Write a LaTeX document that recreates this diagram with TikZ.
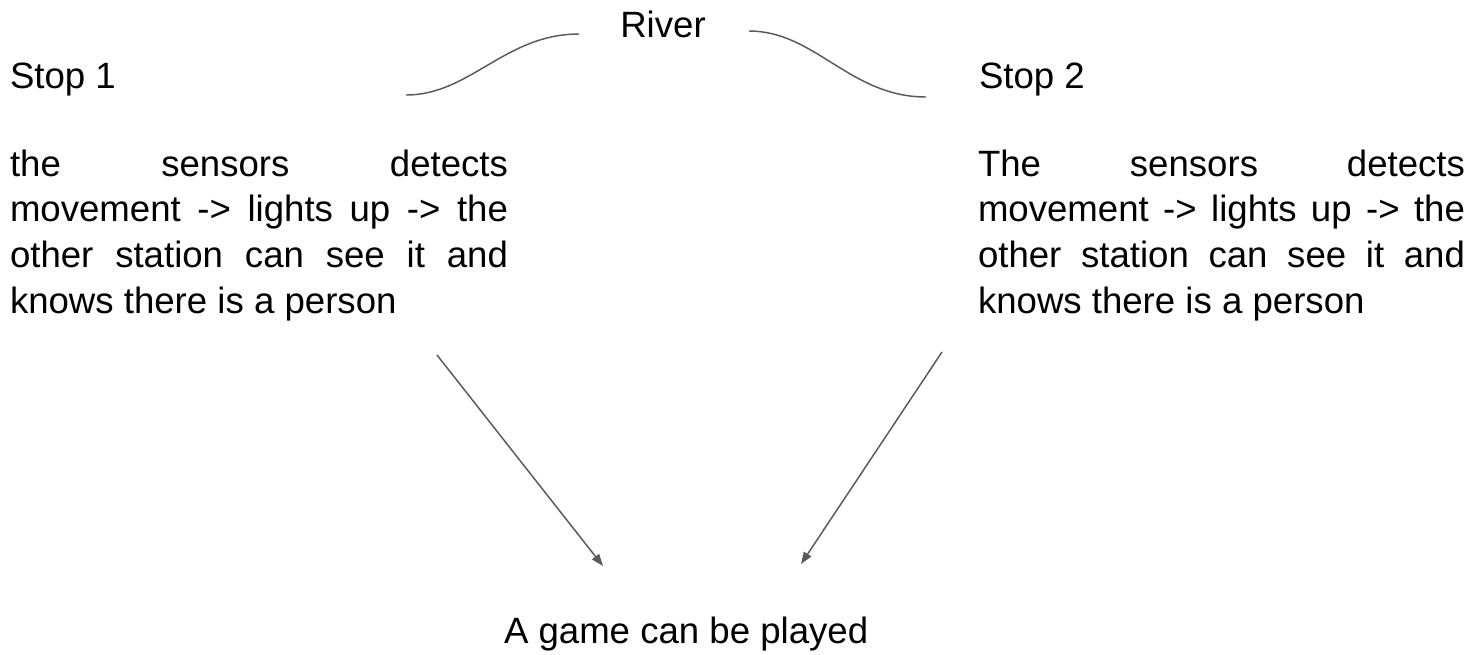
\documentclass[tikz,border=0pt]{standalone}
\usepackage{fontspec}
\setmainfont{Liberation Sans}
\usetikzlibrary{arrows.meta}
\begin{document}
\begin{tikzpicture}[x=0.75pt,y=-0.75pt,
  lbl/.style={inner sep=0pt,outer sep=0pt,anchor=base west,font=\fontsize{27.45pt}{34.3pt}\selectfont,text=black},
  para/.style={lbl,align=justify},
  conn/.style={draw=black!65,line width=1.1pt,-{Triangle[length=9pt,width=6.5pt]}},
  river/.style={draw=black!65,line width=1.1pt}]
\useasboundingbox (0,0) rectangle (1471,654);
\node[lbl] (stop1) at (10,88) {Stop 1};
\node[lbl] (stop2) at (979,88) {Stop 2};
\node[lbl,anchor=base] (river) at (663,37) {River};
\node[para,text width=373.5pt] (p1) at (10,176) {the sensors detects\linebreak movement -> lights up -> the\linebreak other station can see it and\linebreak knows there is a person};
\node[para,text width=365.25pt] (p2) at (978,176) {The sensors detects\linebreak movement -> lights up -> the\linebreak other station can see it and\linebreak knows there is a person};
\node[lbl] (game) at (504,643) {A game can be played};
\coordinate (r1a) at (406,95);
\coordinate (r1b) at (579,34);
\coordinate (r2a) at (749,31);
\coordinate (r2b) at (926,97);
\draw[river] (r1a) .. controls (470,95) and (505,34) .. (r1b);
\draw[river] (r2a) .. controls (815,31) and (850,97) .. (r2b);
\coordinate (a1s) at (437,355);
\coordinate (a1e) at (603,566);
\coordinate (a2s) at (942,352);
\coordinate (a2e) at (801,564);
\draw[conn] (a1s) -- (a1e);
\draw[conn] (a2s) -- (a2e);
\end{tikzpicture}
\end{document}
